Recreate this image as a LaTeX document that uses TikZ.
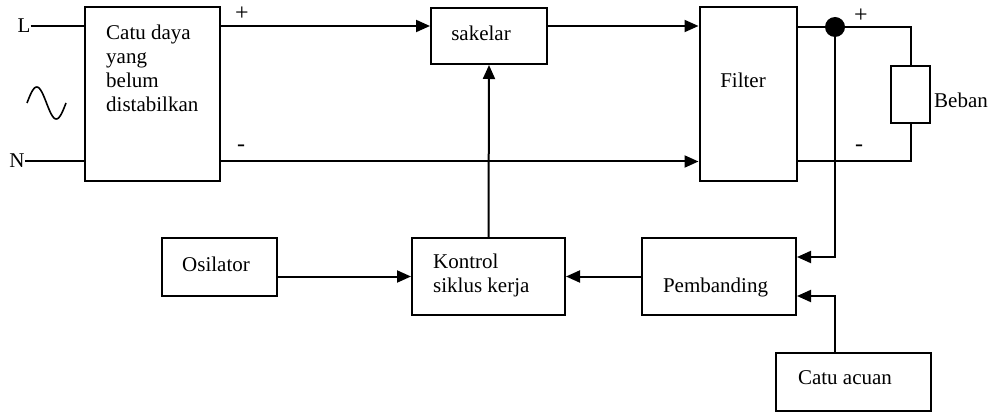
\documentclass[tikz,border=0pt]{standalone}
\usepackage{fontspec}
\setmainfont{Liberation Serif}
\usetikzlibrary{arrows.meta}
\begin{document}
\begin{tikzpicture}[x=1pt,y=-1pt,
  wire/.style={line width=2pt},
  arr/.style={wire,-{Triangle[length=14pt,width=12pt]}},
  block/.style={draw,line width=2pt,rectangle,inner sep=0pt},
  txt/.style={inner sep=0pt,font=\fontsize{21}{24}\selectfont},
  sign/.style={inner sep=0pt,font=\fontsize{24}{26}\selectfont}]
\useasboundingbox (0,0) rectangle (992,414);

% blocks
\node[block,minimum width=135pt,minimum height=174pt] (catu) at (152.5,94) {};
\node[block,minimum width=116pt,minimum height=56pt] (sakelar) at (489,36) {};
\node[block,minimum width=97pt,minimum height=174pt] (filter) at (748,94) {};
\node[block,minimum width=39pt,minimum height=57pt] (beban) at (910.5,94.5) {};
\node[block,minimum width=115pt,minimum height=58pt] (osc) at (219.5,267) {};
\node[block,minimum width=153pt,minimum height=77pt] (kontrol) at (488.5,276.5) {};
\node[block,minimum width=154pt,minimum height=77pt] (pemb) at (719,276.5) {};
\node[block,minimum width=155pt,minimum height=58pt] (acuan) at (853.5,382) {};

% texts
\node[txt,anchor=north west,align=left] (catutxt) at (106,25) {Catu daya\\yang\\belum\\distabilkan};
\node[txt] (sakeltxt) at (481,33) {sakelar};
\node[txt] (filttxt) at (743,80) {Filter};
\node[txt,anchor=west] (bebtxt) at (934,100) {Beban};
\node[txt] (osctxt) at (216,264) {Osilator};
\node[txt,anchor=north west,align=left] (kontxt) at (433,254) {Kontrol\\siklus kerja};
\node[txt] (pembtxt) at (715.5,287) {Pembanding};
\node[txt] (acutxt) at (845,378) {Catu acuan};
\node[txt] (Ltxt) at (24,26) {L};
\node[txt] (Ntxt) at (17,161) {N};
\node[sign] (p1) at (242,14) {+};
\node[sign] (m1) at (241,148) {-};
\node[sign] (p2) at (861,16) {+};
\node[sign] (m2) at (859,148) {-};

% mains input and its sine symbol
\draw[wire] (Ltxt.east) -- (catu.west |- Ltxt);
\draw[wire] (Ntxt.east) -- (catu.west |- Ntxt);
\draw[line width=1.6pt,smooth,domain=27:66,samples=40]
  plot (\x,{103-16*sin(360*(\x-27)/39)});

% power path
\coordinate (top) at (0,26);
\coordinate (bot) at (0,161.5);
\draw[arr] (catu.east |- top) -- (sakelar.west |- top);
\draw[arr] (sakelar.east |- top) -- (filter.west |- top);
\draw[arr] (catu.east |- bot) -- (filter.west |- bot);

% output to the load
\coordinate (dot) at (835,27);
\draw[wire] (filter.east |- dot) -- (dot) -- (beban.north |- dot) -- (beban.north);
\draw[wire] (beban.south) -- (beban.south |- bot) -- (filter.east |- bot);
\fill (dot) circle (10pt);

% feedback loop
\coordinate (fb) at (835,257);
\coordinate (ref) at (835,296);
\draw[arr] (dot) -- (fb) -- (pemb.east |- fb);
\draw[arr] (acuan.north -| ref) -- (ref) -- (pemb.east |- ref);
\draw[arr] (pemb.west) -- (kontrol.east);
\draw[arr] (osc.east |- kontrol) -- (kontrol.west);
\draw[arr] (kontrol.north) -- (sakelar.south);
\end{tikzpicture}
\end{document}
